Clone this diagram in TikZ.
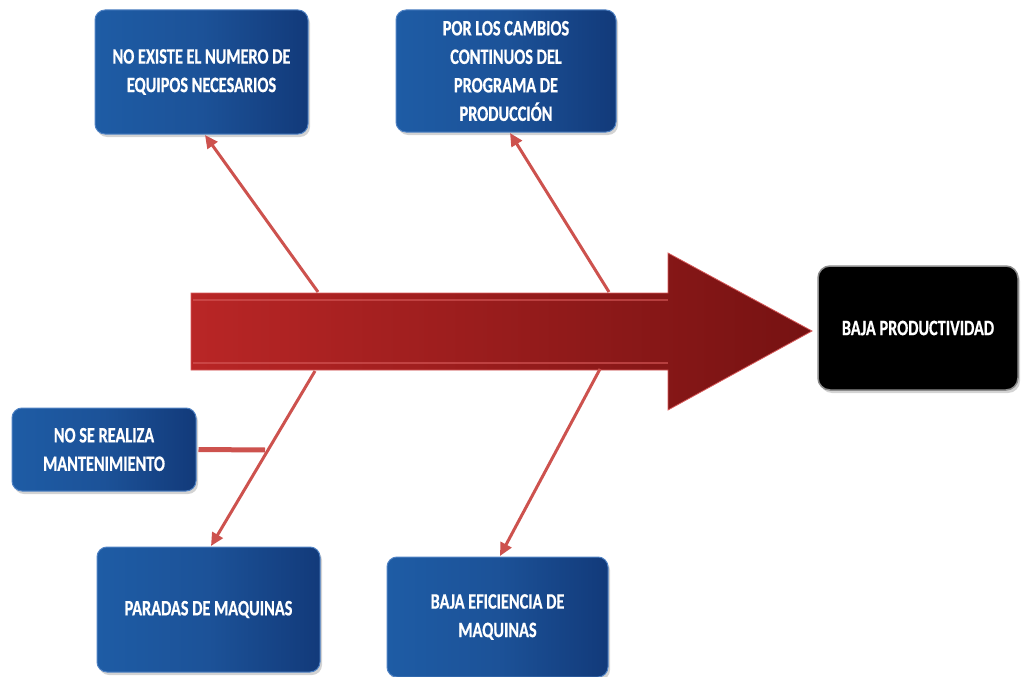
\documentclass[tikz,border=0pt]{standalone}
\usepackage{fontspec}
\newfontfamily\boxfont{Carlito}[FakeStretch=0.74,FakeBold=0.6]
\usetikzlibrary{arrows.meta,shadows}
\definecolor{blueA}{RGB}{30,92,165}
\definecolor{blueM}{RGB}{28,82,152}
\definecolor{blueB}{RGB}{18,58,122}
\definecolor{blueRim}{RGB}{80,130,195}
\definecolor{redL}{RGB}{185,38,38}
\definecolor{redD}{RGB}{118,18,18}
\definecolor{redHi}{RGB}{215,90,90}
\definecolor{cause}{RGB}{205,82,78}
\tikzset{
  causebox/.style={rounded corners=10pt, draw=blueRim, line width=1pt,
    left color=blueA, right color=blueB, middle color=blueM, text=white,
    font=\boxfont\bfseries\fontsize{22}{28.5}\selectfont, align=center,
    drop shadow={opacity=0.35, shadow xshift=2pt, shadow yshift=-3pt}},
  effectbox/.style={rounded corners=12pt, draw=black!45, line width=1.5pt,
    fill=black, text=white,
    font=\boxfont\bfseries\fontsize{22}{28.5}\selectfont, align=center,
    drop shadow={opacity=0.35, shadow xshift=2pt, shadow yshift=-3pt}},
  causeline/.style={draw=cause, line width=3pt,
    -{Triangle[length=13pt,width=12pt]}},
  branchline/.style={draw=cause, line width=5pt}
}
\begin{document}
\begin{tikzpicture}[x=1pt,y=-1pt]
\useasboundingbox (0,0) rectangle (1021,677);
% boxes
\node[causebox, minimum width=213pt, minimum height=124pt] (b1) at (201.5,72) {NO EXISTE EL NUMERO DE\\EQUIPOS NECESARIOS};
\node[causebox, minimum width=220pt, minimum height=122pt] (b2) at (506,71) {POR LOS CAMBIOS\\CONTINUOS DEL\\PROGRAMA DE\\PRODUCCIÓN};
\node[causebox, minimum width=184pt, minimum height=83pt] (b3) at (104,449.5) {NO SE REALIZA\\MANTENIMIENTO};
\node[causebox, minimum width=223pt, minimum height=125pt] (b4) at (208.5,609.5) {PARADAS DE MAQUINAS};
\node[causebox, minimum width=221pt, minimum height=120pt] (b5) at (497.5,617) {BAJA EFICIENCIA DE\\MAQUINAS};
\node[effectbox, minimum width=200pt, minimum height=124pt] (b6) at (918,328) {BAJA PRODUCTIVIDAD};
% big arrow
\shade[left color=redL, right color=redD, draw=redHi, line width=0.8pt]
  (191,293) -- (668,293) -- (668,253) -- (812,331) -- (668,410) -- (668,370) -- (191,370) -- cycle;
\draw[redHi, line width=1.2pt, opacity=0.6] (193,300) -- (668,300);
\draw[redHi, line width=1.2pt, opacity=0.6] (193,363) -- (668,363);
% connector coordinates
\coordinate (s1) at (318,292);
\coordinate (t1) at (205,135);
\coordinate (s2) at (609,292);
\coordinate (t2) at (510,133);
\coordinate (s3) at (315,371);
\coordinate (t3) at (211,546);
\coordinate (s4) at (600,369);
\coordinate (t4) at (500,556);
\coordinate (j3) at (265,450);
% cause lines
\draw[causeline] (s1) -- (t1);
\draw[causeline] (s2) -- (t2);
\draw[causeline] (s3) -- (t3);
\draw[causeline] (s4) -- (t4);
\draw[branchline] (b3.east) ++(2,0) -- (j3);
\end{tikzpicture}
\end{document}
